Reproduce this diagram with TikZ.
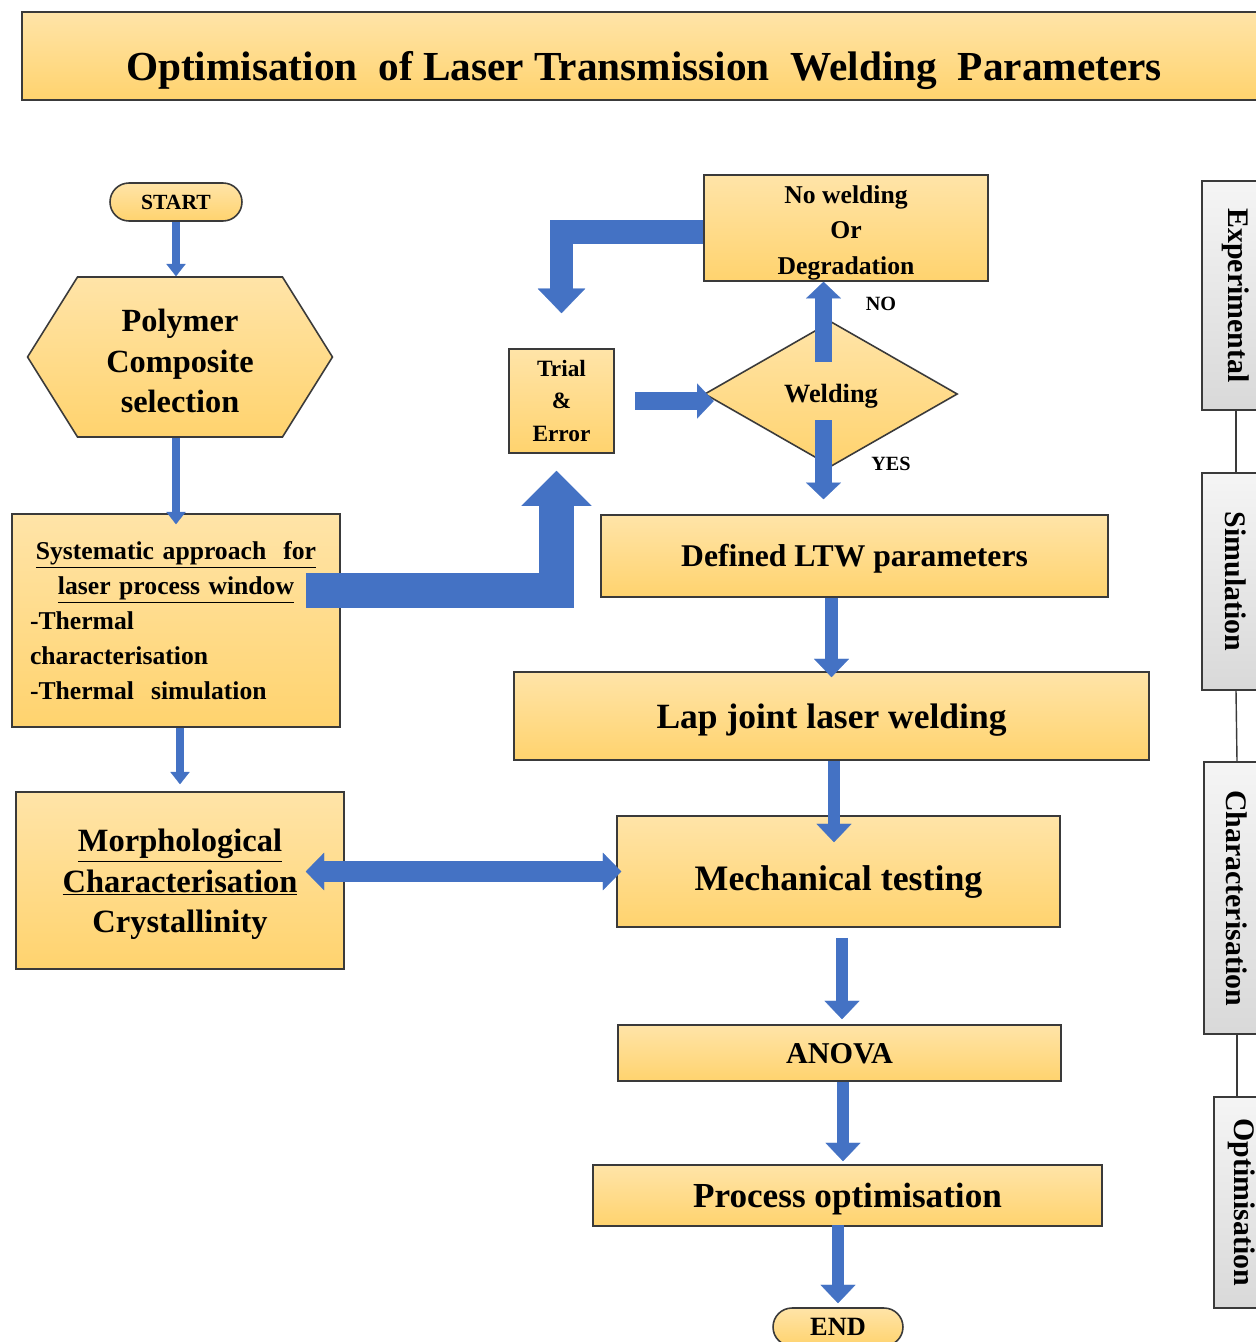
\documentclass[tikz,border=0pt]{standalone}
\usepackage{fontspec}
\setmainfont{Liberation Serif}
\usetikzlibrary{arrows.meta,shapes.geometric,shapes.misc,shapes.symbols}

\definecolor{arrblue}{HTML}{4472C4}
\definecolor{boxtop}{HTML}{FFE4A8}
\definecolor{boxbot}{HTML}{FFD36E}
\definecolor{boxline}{HTML}{3A3A3A}

\newcommand{\fs}[2]{\fontsize{#1}{#2}\selectfont}

\tikzset{
  box/.style={draw=boxline, line width=0.9pt, top color=boxtop, bottom color=boxbot,
    font=\bfseries, inner sep=0pt, align=center},
  capc/.style={text height=#1, text depth=0pt},
  terminal/.style={box, rounded rectangle},
  tab/.style={draw=boxline, line width=0.9pt, top color=gray!8, bottom color=gray!30,
    rotate=-90, font=\bfseries\fs{17}{20}, inner sep=0pt},
  lbl/.style={font=\bfseries\fs{11.5}{13}, inner sep=0pt},
  thinarr/.style={draw=arrblue, line width=4.5pt,
    -{Triangle[width=11pt,length=7pt,line width=0.1pt]}},
  midarr/.style={draw=arrblue, line width=7pt,
    -{Triangle[width=20pt,length=10.5pt,line width=0.1pt]}},
  weldarr/.style={draw=arrblue, line width=10pt,
    -{Triangle[width=20pt,length=9.5pt,line width=0.1pt]}},
  loparr/.style={draw=arrblue, line width=13.5pt,
    -{Triangle[width=27pt,length=14pt,line width=0.1pt]}},
  bigarr/.style={draw=arrblue, line width=20pt,
    -{Triangle[width=40pt,length=20pt,line width=0.1pt]}},
  dblarr/.style={draw=arrblue, line width=12pt,
    {Triangle[width=21.5pt,length=10.5pt,line width=0.1pt]}-{Triangle[width=21.5pt,length=10.5pt,line width=0.1pt]}}
}

\begin{document}
\begin{tikzpicture}[x=0.02cm, y=-0.02cm]
\useasboundingbox (0,0) rectangle (1256,1342);
\clip (0,0) rectangle (1256,1342);

% title
\node[box, minimum width=24.88cm, minimum height=1.76cm, font=\bfseries\fs{23.5}{28},
  text height=1.1cm, text depth=0.1cm]
  (title) at (644,56) {Optimisation\ \ of Laser Transmission\ \ Welding\ \ Parameters};

% left column
\node[terminal, capc=8.1pt, minimum width=2.64cm, minimum height=0.76cm, font=\bfseries\fs{12.3}{14}]
  (start) at (176,202) {START};
\node[box, signal, signal to=west and east, signal pointer angle=116,
  minimum width=6.1cm, minimum height=3.2cm, font=\bfseries\fs{18.4}{23}]
  (hexa) at (180,357) {\rule{0pt}{0.62cm}Polymer\\Composite\\selection};
\node[box, minimum width=6.56cm, minimum height=4.26cm, inner sep=0.36cm,
  text width=5.84cm, align=left, font=\bfseries\fs{14.6}{20}]
  (sysbox) at (176,620.5)
  {\makebox[5.84cm][c]{\underline{Systematic approach\ \ for}}\\
   \makebox[5.84cm][c]{\underline{laser process window}}\\
   -Thermal\\
   characterisation\\
   -Thermal\ \ simulation};
\node[box, minimum width=6.56cm, minimum height=3.54cm, font=\bfseries\fs{18.5}{23}]
  (morph) at (180,880.5)
  {\rule{0pt}{0.6cm}\underline{Morphological}\\\underline{Characterisation}\\Crystallinity};

% trial and decision
\node[box, minimum width=2.1cm, minimum height=2.08cm, font=\bfseries\fs{13.3}{18.7}]
  (trial) at (561.5,401) {Trial\\\&\\Error};
\node[box, diamond, aspect=1.745, minimum width=5.06cm, minimum height=2.9cm,
  capc=9.9pt, font=\bfseries\fs{15}{18}]
  (welding) at (831,394) {Welding};
\node[box, minimum width=5.68cm, minimum height=2.12cm, font=\bfseries\fs{14.6}{20.4}]
  (nowelding) at (846,228) {\rule{0pt}{0.55cm}No welding\\Or\\Degradation};
\node[lbl] (nolbl) at (881,304) {NO};
\node[lbl] (yeslbl) at (891,464) {YES};

% right column
\node[box, capc=12.5pt, minimum width=10.14cm, minimum height=1.64cm, font=\bfseries\fs{18}{22}]
  (defined) at (854.5,556) {Defined LTW parameters};
\node[box, capc=14.4pt, minimum width=12.7cm, minimum height=1.76cm, font=\bfseries\fs{20.2}{24}]
  (lap) at (831.5,716) {Lap joint laser welding};
\node[box, capc=22pt, minimum width=8.86cm, minimum height=2.22cm, font=\bfseries\fs{20.4}{24}]
  (mech) at (838.5,871.5) {Mechanical testing};
\node[box, capc=11.4pt, minimum width=8.86cm, minimum height=1.12cm, font=\bfseries\fs{17.2}{20}]
  (anova) at (839.5,1053) {ANOVA};
\node[box, capc=13.8pt, minimum width=10.18cm, minimum height=1.22cm, font=\bfseries\fs{20}{24}]
  (procopt) at (847.5,1195.5) {Process optimisation};
\node[terminal, capc=9.9pt, minimum width=2.6cm, minimum height=0.76cm, font=\bfseries\fs{15}{17}]
  (endnode) at (838,1327) {END};

% side tabs
\node[tab, minimum width=4.58cm, minimum height=1.36cm] (exptab) at (1236,295.5) {Experimental};
\node[tab, minimum width=4.34cm, minimum height=1.36cm] (simtab) at (1236,581.5) {Simulation};
\node[tab, minimum width=5.44cm, minimum height=1.32cm] (chartab) at (1237,898) {Characterisation};
\node[tab, minimum width=4.22cm, minimum height=1.12cm] (opttab) at (1242,1202.5) {Optimisation};
\draw[boxline, line width=0.8pt] (exptab.east) -- (simtab.west);
\draw[boxline, line width=0.8pt] (simtab.east) -- (chartab.west);
\draw[boxline, line width=0.8pt] (chartab.east) -- (chartab.east |- opttab.west);

% arrows
\draw[thinarr] (start.south) -- (start.south |- hexa.north);
\draw[thinarr, shorten >=-0.22cm] (sysbox.north |- hexa.south) -- (sysbox.north);
\draw[thinarr, shorten >=0.14cm] ([xshift=0.08cm]sysbox.south) -- ([xshift=0.08cm]sysbox.south |- morph.north);
\draw[dblarr, shorten <=-0.78cm, shorten >=-0.1cm] (morph.east |- mech.west) -- (mech.west);
\draw[bigarr, shorten >=0.34cm] ([xshift=-0.7cm,yshift=0.6cm]sysbox.east) -| ([xshift=-0.1cm]trial.south);
\draw[loparr, shorten >=0.7cm] ([yshift=-0.08cm]nowelding.west) -| (trial.north);
\draw[weldarr, shorten >=-0.2cm] ([xshift=0.4cm]trial.east) -- (trial.east -| welding.west);
\draw[weldarr] ([xshift=-0.15cm,yshift=0.64cm]welding.center) -- ([xshift=-0.15cm]welding.center |- nowelding.south);
\draw[weldarr, shorten >=0.3cm] ([xshift=-0.15cm,yshift=-0.52cm]welding.center) -- ([xshift=-0.15cm]welding.center |- defined.north);
\draw[midarr, shorten >=-0.12cm] (defined.south -| lap.north) -- (lap.north);
\draw[midarr, shorten >=-0.54cm] ([xshift=0.05cm]lap.south) -- ([xshift=0.05cm]lap.south |- mech.north);
\draw[midarr, shorten <=0.2cm, shorten >=0.1cm] ([xshift=0.07cm]mech.south) -- ([xshift=0.07cm]mech.south |- anova.north);
\draw[midarr, shorten >=0.06cm] ([xshift=0.07cm]anova.south) -- ([xshift=0.07cm]anova.south |- procopt.north);
\draw[midarr, shorten <=-0.04cm, shorten >=0.08cm] (endnode.north |- procopt.south) -- (endnode.north);
\end{tikzpicture}
\end{document}
